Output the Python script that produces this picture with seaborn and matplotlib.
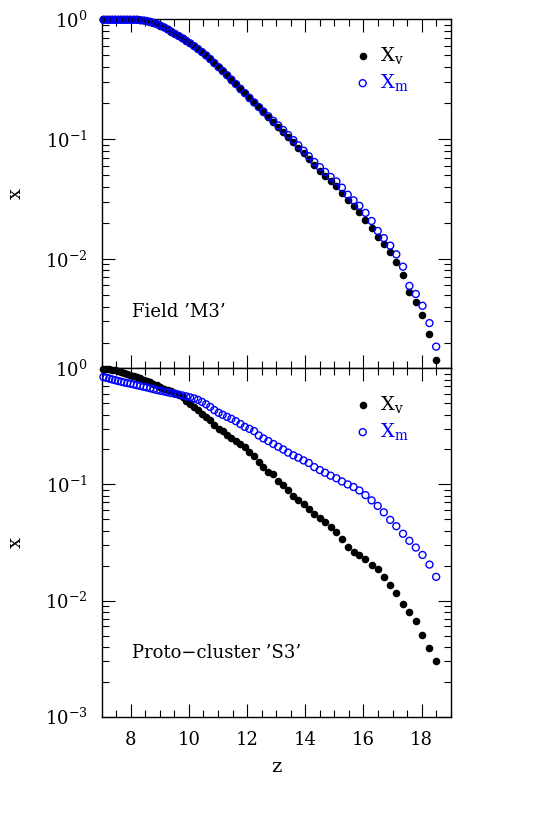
import numpy as np
import pandas as pd
import matplotlib
matplotlib.use("Agg")
import matplotlib.pyplot as plt
import seaborn as sns
from matplotlib.ticker import MultipleLocator, LogLocator, NullFormatter

# redshift of each snapshot
z = [7.06, 7.16, 7.26, 7.36, 7.46, 7.56, 7.67, 7.77, 7.88, 7.99,
     8.10, 8.21, 8.32, 8.44, 8.55, 8.67, 8.78, 8.90, 9.02, 9.15,
     9.27, 9.39, 9.52, 9.65, 9.78, 9.91, 10.04, 10.18, 10.31, 10.45,
     10.59, 10.73, 10.87, 11.02, 11.16, 11.31, 11.46, 11.61, 11.77, 11.92,
     12.08, 12.24, 12.40, 12.56, 12.73, 12.90, 13.07, 13.24, 13.41, 13.59,
     13.76, 13.94, 14.12, 14.31, 14.50, 14.68, 14.87, 15.07, 15.26, 15.46,
     15.66, 15.86, 16.07, 16.28, 16.49, 16.70, 16.92, 17.13, 17.36, 17.58,
     17.80, 18.03, 18.27, 18.50]

# Field 'M3'
field_xv = [1.0, 1.0, 1.0, 1.0, 1.0, 1.0, 1.0, 1.0, 1.0, 1.0,
            1.0, 1.0, 0.995, 0.98, 0.968, 0.953, 0.935, 0.912, 0.885, 0.855,
            0.822, 0.789, 0.755, 0.724, 0.693, 0.661, 0.630, 0.597, 0.565, 0.532,
            0.499, 0.466, 0.432, 0.398, 0.370, 0.341, 0.314, 0.288, 0.263, 0.242,
            0.221, 0.202, 0.184, 0.168, 0.152, 0.139, 0.126, 0.115, 0.104, 0.094,
            0.0845, 0.0759, 0.0679, 0.0605, 0.0546, 0.0493, 0.0445, 0.0403, 0.0353, 0.0308,
            0.0276, 0.0244, 0.0213, 0.0181, 0.0152, 0.0132, 0.0114, 0.00935, 0.00728, 0.00524,
            0.00433, 0.00337, 0.00236, 0.00143]
field_xm = [0.99, 0.99, 0.99, 0.99, 0.99, 0.99, 0.99, 0.99, 0.99, 0.99,
            0.99, 0.99, 0.985, 0.975, 0.968, 0.953, 0.935, 0.912, 0.885, 0.855,
            0.822, 0.789, 0.755, 0.724, 0.693, 0.661, 0.630, 0.597, 0.565, 0.532,
            0.499, 0.466, 0.432, 0.398, 0.370, 0.341, 0.314, 0.288, 0.263, 0.242,
            0.221, 0.202, 0.185, 0.170, 0.155, 0.142, 0.130, 0.119, 0.108, 0.098,
            0.0887, 0.080, 0.0719, 0.0644, 0.0583, 0.0532, 0.0483, 0.0443, 0.0393, 0.0343,
            0.0308, 0.0277, 0.0242, 0.0207, 0.0171, 0.0149, 0.0129, 0.0109, 0.0086, 0.00594,
            0.00509, 0.00406, 0.00291, 0.00185]

# Proto-cluster 'S3'
proto_xv = [0.993, 0.986, 0.977, 0.968, 0.959, 0.948, 0.931, 0.914, 0.897, 0.879,
            0.861, 0.843, 0.820, 0.798, 0.780, 0.759, 0.738, 0.715, 0.692, 0.670,
            0.652, 0.634, 0.614, 0.594, 0.562, 0.519, 0.497, 0.462, 0.435, 0.404,
            0.380, 0.359, 0.327, 0.303, 0.286, 0.269, 0.252, 0.236, 0.221, 0.209,
            0.192, 0.175, 0.156, 0.141, 0.128, 0.123, 0.108, 0.098, 0.089, 0.080,
            0.0731, 0.0678, 0.0611, 0.0558, 0.0513, 0.0473, 0.0429, 0.0390, 0.0339, 0.0290,
            0.0263, 0.0247, 0.0228, 0.0204, 0.0188, 0.0158, 0.0135, 0.0116, 0.00933, 0.00800,
            0.00664, 0.00507, 0.00394, 0.00299]
proto_xm = [0.841, 0.828, 0.815, 0.802, 0.791, 0.778, 0.766, 0.755, 0.746, 0.736,
            0.726, 0.715, 0.705, 0.693, 0.684, 0.673, 0.662, 0.650, 0.640, 0.631,
            0.622, 0.612, 0.603, 0.593, 0.583, 0.573, 0.561, 0.550, 0.535, 0.513,
            0.490, 0.465, 0.437, 0.414, 0.398, 0.382, 0.367, 0.351, 0.331, 0.313,
            0.301, 0.288, 0.264, 0.249, 0.236, 0.223, 0.211, 0.200, 0.188, 0.178,
            0.170, 0.161, 0.153, 0.141, 0.133, 0.126, 0.119, 0.113, 0.106, 0.100,
            0.095, 0.0887, 0.0809, 0.0729, 0.0653, 0.0575, 0.0495, 0.0437, 0.0376, 0.0327,
            0.0286, 0.0247, 0.0204, 0.0160]

panels = [("Field \u2019M3\u2019", field_xv, field_xm, (1.22e-3, 1.0)),
          ("Proto\u2212cluster \u2019S3\u2019", proto_xv, proto_xm, (1e-3, 1.0))]

sns.set_style("ticks")
plt.rcParams['font.family'] = ['DejaVu Serif']
plt.rcParams['mathtext.fontset'] = 'dejavuserif'
plt.rcParams['axes.linewidth'] = 1.0
for key in ['text.color', 'axes.labelcolor', 'xtick.color', 'ytick.color', 'axes.edgecolor']:
    plt.rcParams[key] = 'black'

fig = plt.figure(figsize=(5.33, 8.17), dpi=100)
ax1 = fig.add_axes([0.1908, 0.5492, 0.6548, 0.4272])
ax2 = fig.add_axes([0.1908, 0.1228, 0.6548, 0.4264], sharex=ax1)

for ax, (title, xv, xm, ylim) in zip([ax1, ax2], panels):
    df = pd.DataFrame({'z': z, 'xv': xv, 'xm': xm})
    sns.scatterplot(data=df, x='z', y='xv', ax=ax, color='black', s=30,
                    linewidth=0, clip_on=False, zorder=3, label=r'$\mathrm{X_v}$')
    sns.scatterplot(data=df, x='z', y='xm', ax=ax, facecolor='none', edgecolor='#0000ff',
                    s=25, linewidth=1.0, clip_on=False, zorder=4, label=r'$\mathrm{X_m}$')

    ax.set_yscale('log')
    ax.set_xlim(7, 19)
    ax.set_ylim(*ylim)
    ax.xaxis.set_major_locator(MultipleLocator(2))
    ax.xaxis.set_minor_locator(MultipleLocator(0.5))
    ax.yaxis.set_major_locator(LogLocator(base=10))
    ax.yaxis.set_minor_locator(LogLocator(base=10, subs=np.arange(2, 10)))
    ax.yaxis.set_minor_formatter(NullFormatter())
    ax.tick_params(which='both', direction='in', top=True, right=True, width=0.8,
                   color='black', labelcolor='black')
    ax.tick_params(which='major', length=9.5, pad=10, labelsize=13)
    ax.tick_params(which='minor', length=4.8)

    ax.set_ylabel('x', fontsize=14)
    ax.yaxis.set_label_coords(-0.22, 0.5)
    ax.text(0.086, 0.16 if ax is ax1 else 0.182, title, transform=ax.transAxes,
            fontsize=13, va='center', ha='left', color='black')

    leg = ax.legend(loc='upper left', bbox_to_anchor=(0.72, 0.925), frameon=False,
                    handlelength=1.0, handletextpad=0.4, labelspacing=0.3,
                    borderpad=0, borderaxespad=0, fontsize=14)
    leg.get_texts()[0].set_color('black')
    leg.get_texts()[1].set_color('#0000ff')

ax1.tick_params(labelbottom=False)
ax1.set_xlabel('')
ax2.set_xlabel('z', fontsize=14)
ax2.xaxis.set_label_coords(0.5, -0.12)

fig.savefig('out.png', dpi=100)
